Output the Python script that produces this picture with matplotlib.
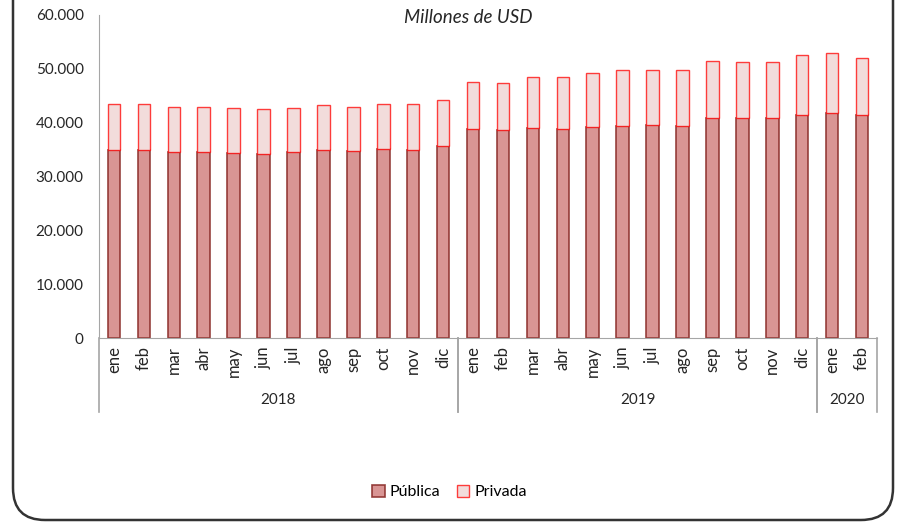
import numpy as np
import matplotlib.pyplot as plt
import matplotlib
from matplotlib.patches import FancyBboxPatch

matplotlib.use('Agg')
plt.rcParams['font.family'] = ['Lato', 'DejaVu Sans']

# месяцы и годы
months = ['ene', 'feb', 'mar', 'abr', 'may', 'jun', 'jul', 'ago', 'sep', 'oct', 'nov', 'dic'] * 2 + ['ene', 'feb']
years = [('2018', -0.5, 11.5), ('2019', 11.5, 23.5), ('2020', 23.5, 25.5)]

# данные, млн USD
publica = np.array([34900, 35000, 34600, 34500, 34400, 34100, 34500, 34900, 34800, 35200, 35000, 35700,
                    38800, 38600, 39100, 38800, 39200, 39400, 39600, 39300, 40900, 40900, 40800, 41500,
                    41800, 41500])
total = np.array([43500, 43500, 43000, 43000, 42800, 42500, 42800, 43200, 43000, 43500, 43500, 44300,
                  47500, 47400, 48400, 48500, 49200, 49700, 49800, 49700, 51500, 51300, 51300, 52500,
                  53000, 52100])
privada = total - publica

x = np.arange(len(months))

fig = plt.figure(figsize=(8.99, 5.26), dpi=100)
ax = fig.add_axes([0.1101, 0.3574, 0.8654, 0.6141])

plt.bar(x, publica, width=0.42, color='#D99594', edgecolor=(0.55, 0.18, 0.17, 0.9), linewidth=1.2, label='Pública')
plt.bar(x, privada, width=0.42, bottom=publica, color='#F2DCDB', edgecolor=(1.0, 0.0, 0.0, 0.75), linewidth=1.0, label='Privada')

plt.xlim(-0.5, 25.5)
plt.ylim(0, 60000)

plt.yticks(np.arange(0, 60001, 10000), ['0' if v == 0 else '{:,}'.format(v).replace(',', '.') for v in range(0, 60001, 10000)], fontsize=11, color='#262626')
plt.xticks(x, months, rotation=90, fontsize=12, color='#262626')
ax.tick_params(axis='both', length=0)
ax.tick_params(axis='x', pad=6)
ax.tick_params(axis='y', pad=11)

for side in ['top', 'right']:
    ax.spines[side].set_visible(False)
ax.spines['left'].set_color('#A6A6A6')
ax.spines['bottom'].set_color('#A6A6A6')

# разделители групп по годам
trans = ax.get_xaxis_transform()
for name, a, b in years:
    for edge in (a, b):
        ax.plot([edge, edge], [0, -0.229], color='#A6A6A6', linewidth=1.2, transform=trans, clip_on=False)
    ax.text((a + b) / 2, -0.192, name, ha='center', va='center', fontsize=11, color='#262626', transform=trans)

fig.text(0.521, 0.966, 'Millones de USD', ha='center', va='center', fontsize=13.5, style='italic', color='#262626')

plt.legend(loc='center', bbox_to_anchor=(0.5, 0.0646), bbox_transform=fig.transFigure, ncol=2, frameon=False,
           fontsize=11.5, handlelength=0.8, handleheight=0.8, handletextpad=0.3, columnspacing=1.0)

# рамка со скруглёнными углами (белая заливка под осями)
frame = FancyBboxPatch((13, 6), 880, 600, boxstyle='round,pad=0,rounding_size=32', transform=None,
                       facecolor='white', edgecolor='#333333', linewidth=1.8, zorder=-1)
fig.add_artist(frame)

plt.savefig('out.png', dpi=100)
